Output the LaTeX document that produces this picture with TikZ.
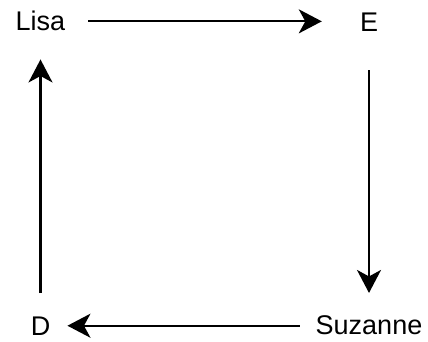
\documentclass[tikz,border=0pt]{standalone}
\usepackage{fontspec}
\setmainfont{Liberation Sans}
\usetikzlibrary{arrows.meta}
\tikzset{
  label/.style={inner sep=0pt, anchor=base, font=\fontsize{27}{32}\selectfont},
  link/.style={line width=2.2pt, -{Stealth[length=23pt,width=24pt,inset=6.5pt]}}
}
\begin{document}
\begin{tikzpicture}[x=1pt,y=-1pt]
  \useasboundingbox (0,0) rectangle (428,341);
  \node[label] (lisa) at (40.5,30) {Lisa};
  \node[label] (e) at (369,31) {E};
  \node[label] (suz) at (369,334) {Suzanne};
  \node[label] (d) at (40.5,335) {D};
  % the cycle Lisa -> E -> Suzanne -> D -> Lisa
  \draw[link] ([xshift=23pt,yshift=-1pt]lisa.east) -- ([xshift=-38pt,yshift=-1pt]lisa.east -| e.west);
  \draw[link] ([yshift=-39pt]e.south) -- ([yshift=22pt]e.south |- suz.north);
  \draw[link] ([xshift=-16pt]suz.west |- d.east) -- ([xshift=17pt]d.east);
  \draw[link] ([yshift=23pt]d.north) -- ([yshift=-29pt]lisa.south);
\end{tikzpicture}
\end{document}
